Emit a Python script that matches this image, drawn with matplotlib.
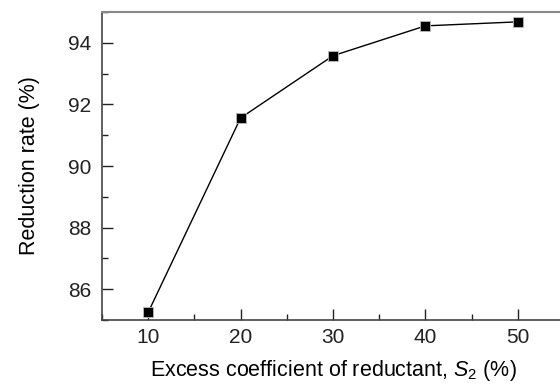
import matplotlib.pyplot as plt
from matplotlib.ticker import MultipleLocator

plt.rcParams['font.family'] = ['Liberation Sans', 'DejaVu Sans']
plt.rcParams['mathtext.fontset'] = 'custom'
plt.rcParams['mathtext.rm'] = 'Liberation Sans'
plt.rcParams['mathtext.it'] = 'Liberation Sans:italic'

excess = [10, 20, 30, 40, 50]
reduction = [85.25, 91.56, 93.58, 94.55, 94.68]

fig = plt.figure(figsize=(5.6, 3.89), dpi=100)
ax = fig.add_axes([102 / 560, 1 - 320 / 389, (564 - 102) / 560, (320 - 12) / 389])

ax.plot(excess, reduction, '-s', color='black', lw=1, ms=6.5,
        markeredgecolor='#bbbbbb', markeredgewidth=0.6)

ax.set_xlim(5, 55)
ax.set_ylim(85, 95)
ax.xaxis.set_major_locator(MultipleLocator(10))
ax.xaxis.set_minor_locator(MultipleLocator(5))
ax.yaxis.set_major_locator(MultipleLocator(2))
ax.yaxis.set_minor_locator(MultipleLocator(1))
ax.tick_params(which='both', direction='in', labelsize=15, colors='#222222')
ax.tick_params(which='major', length=8, width=1)
ax.tick_params(which='minor', length=4, width=1)
ax.tick_params(axis='x', pad=6)
ax.tick_params(axis='y', pad=8)

for s in ['left', 'bottom']:
    ax.spines[s].set_color('#444444')
    ax.spines[s].set_linewidth(1.2)
ax.spines['top'].set_color('#888888')
ax.spines['top'].set_linewidth(1.5)
ax.spines['right'].set_visible(False)

ax.set_xlabel('Excess coefficient of reductant, $S_2$ (%)', fontsize=15.5, labelpad=8)
ax.set_ylabel('Reduction rate (%)', fontsize=15.5, labelpad=20)

fig.savefig('out.png', dpi=100)
